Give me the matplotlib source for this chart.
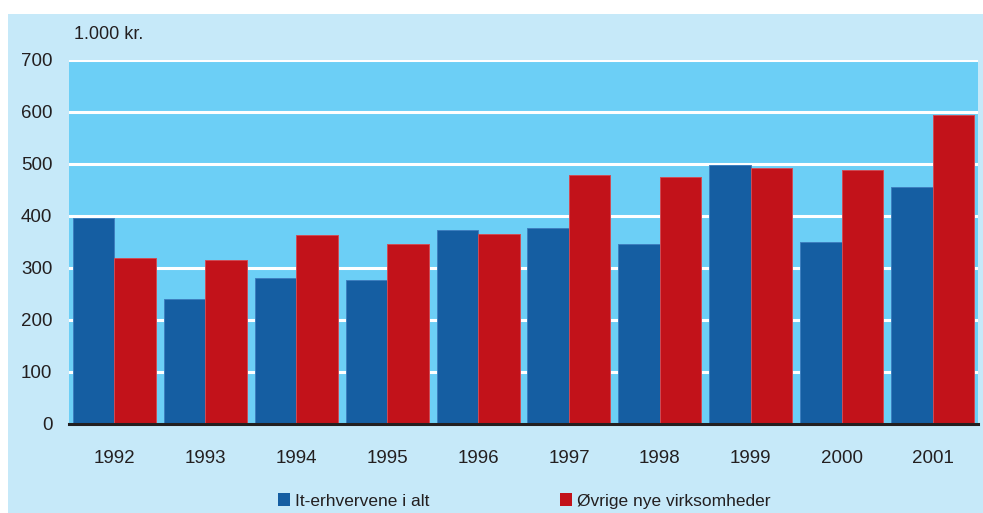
import matplotlib
matplotlib.use("Agg")
import matplotlib.pyplot as plt
import numpy as np
from matplotlib.patches import Rectangle

years = ["1992", "1993", "1994", "1995", "1996", "1997", "1998", "1999", "2000", "2001"]
it_erhverv = [396, 240, 281, 277, 374, 377, 346, 498, 350, 455]
ovrige = [320, 316, 364, 347, 365, 478, 475, 492, 488, 594]
series_names = ["It-erhvervene i alt", "Øvrige nye virksomheder"]
yticks = [0, 100, 200, 300, 400, 500, 600, 700]
unit_label = "1.000 kr."

plt.rcParams['font.family'] = ["Liberation Sans", 'DejaVu Sans']

W, H = 983, 513
fig = plt.figure(figsize=(W / 100, H / 100), dpi=100, facecolor="white")
# light blue panel background
fig.patches.append(Rectangle((8 / W, 0), 1 - 8 / W, 1 - 14 / H, transform=fig.transFigure,
                             facecolor="#c6e9f9", edgecolor="none", zorder=-10))

left, right = 69 / W, 978 / W
bottom, top = 1 - 424 / H, 1 - 60 / H
ax = fig.add_axes([left, bottom, right - left, top - bottom])
ax.set_zorder(5)
ax.set_facecolor("#6ccff6")

x = np.arange(len(years))
w = 0.457
b1 = ax.bar(x - w / 2, it_erhverv, w, color="#155ea2", edgecolor="#3d7fbf", linewidth=0.7,
            label=series_names[0], zorder=3)
b2 = ax.bar(x + w / 2, ovrige, w, color="#c2121a", edgecolor="#cf4b55", linewidth=0.7,
            label=series_names[1], zorder=3)

ax.set_xlim(-0.5, len(years) - 0.5)
ax.set_ylim(0, 700)
ax.set_yticks(yticks)
ax.set_yticklabels([str(t) for t in yticks])
ax.set_xticks(x)
ax.set_xticklabels(years)
ax.tick_params(axis="both", length=0, labelsize=13.5, colors="#231f20")
ax.tick_params(axis="y", pad=12)
ax.tick_params(axis="x", pad=19)
ax.yaxis.grid(True, color="white", linewidth=2.2, zorder=1)
ax.set_axisbelow(True)
for s in ["top", "right", "left"]:
    ax.spines[s].set_visible(False)
ax.spines["bottom"].set_color("#231f20")
ax.spines["bottom"].set_linewidth(2.2)
ax.spines["bottom"].set_zorder(5)

fig.text(74 / W, 1 - 35 / H, unit_label, fontsize=13, color="#231f20", va="center", ha="left")

leg = fig.legend(handles=[b1, b2], labels=series_names, ncol=2, loc="center left",
                 bbox_to_anchor=(269 / W, 1 - 501 / H), frameon=False, fontsize=12.5,
                 handlelength=0.7, handleheight=0.7, handletextpad=0.3, columnspacing=7.5,
                 borderpad=0, labelcolor="#231f20")
for h in leg.legend_handles:
    h.set_linewidth(0)

fig.savefig("out.png", dpi=100, facecolor=fig.get_facecolor())
